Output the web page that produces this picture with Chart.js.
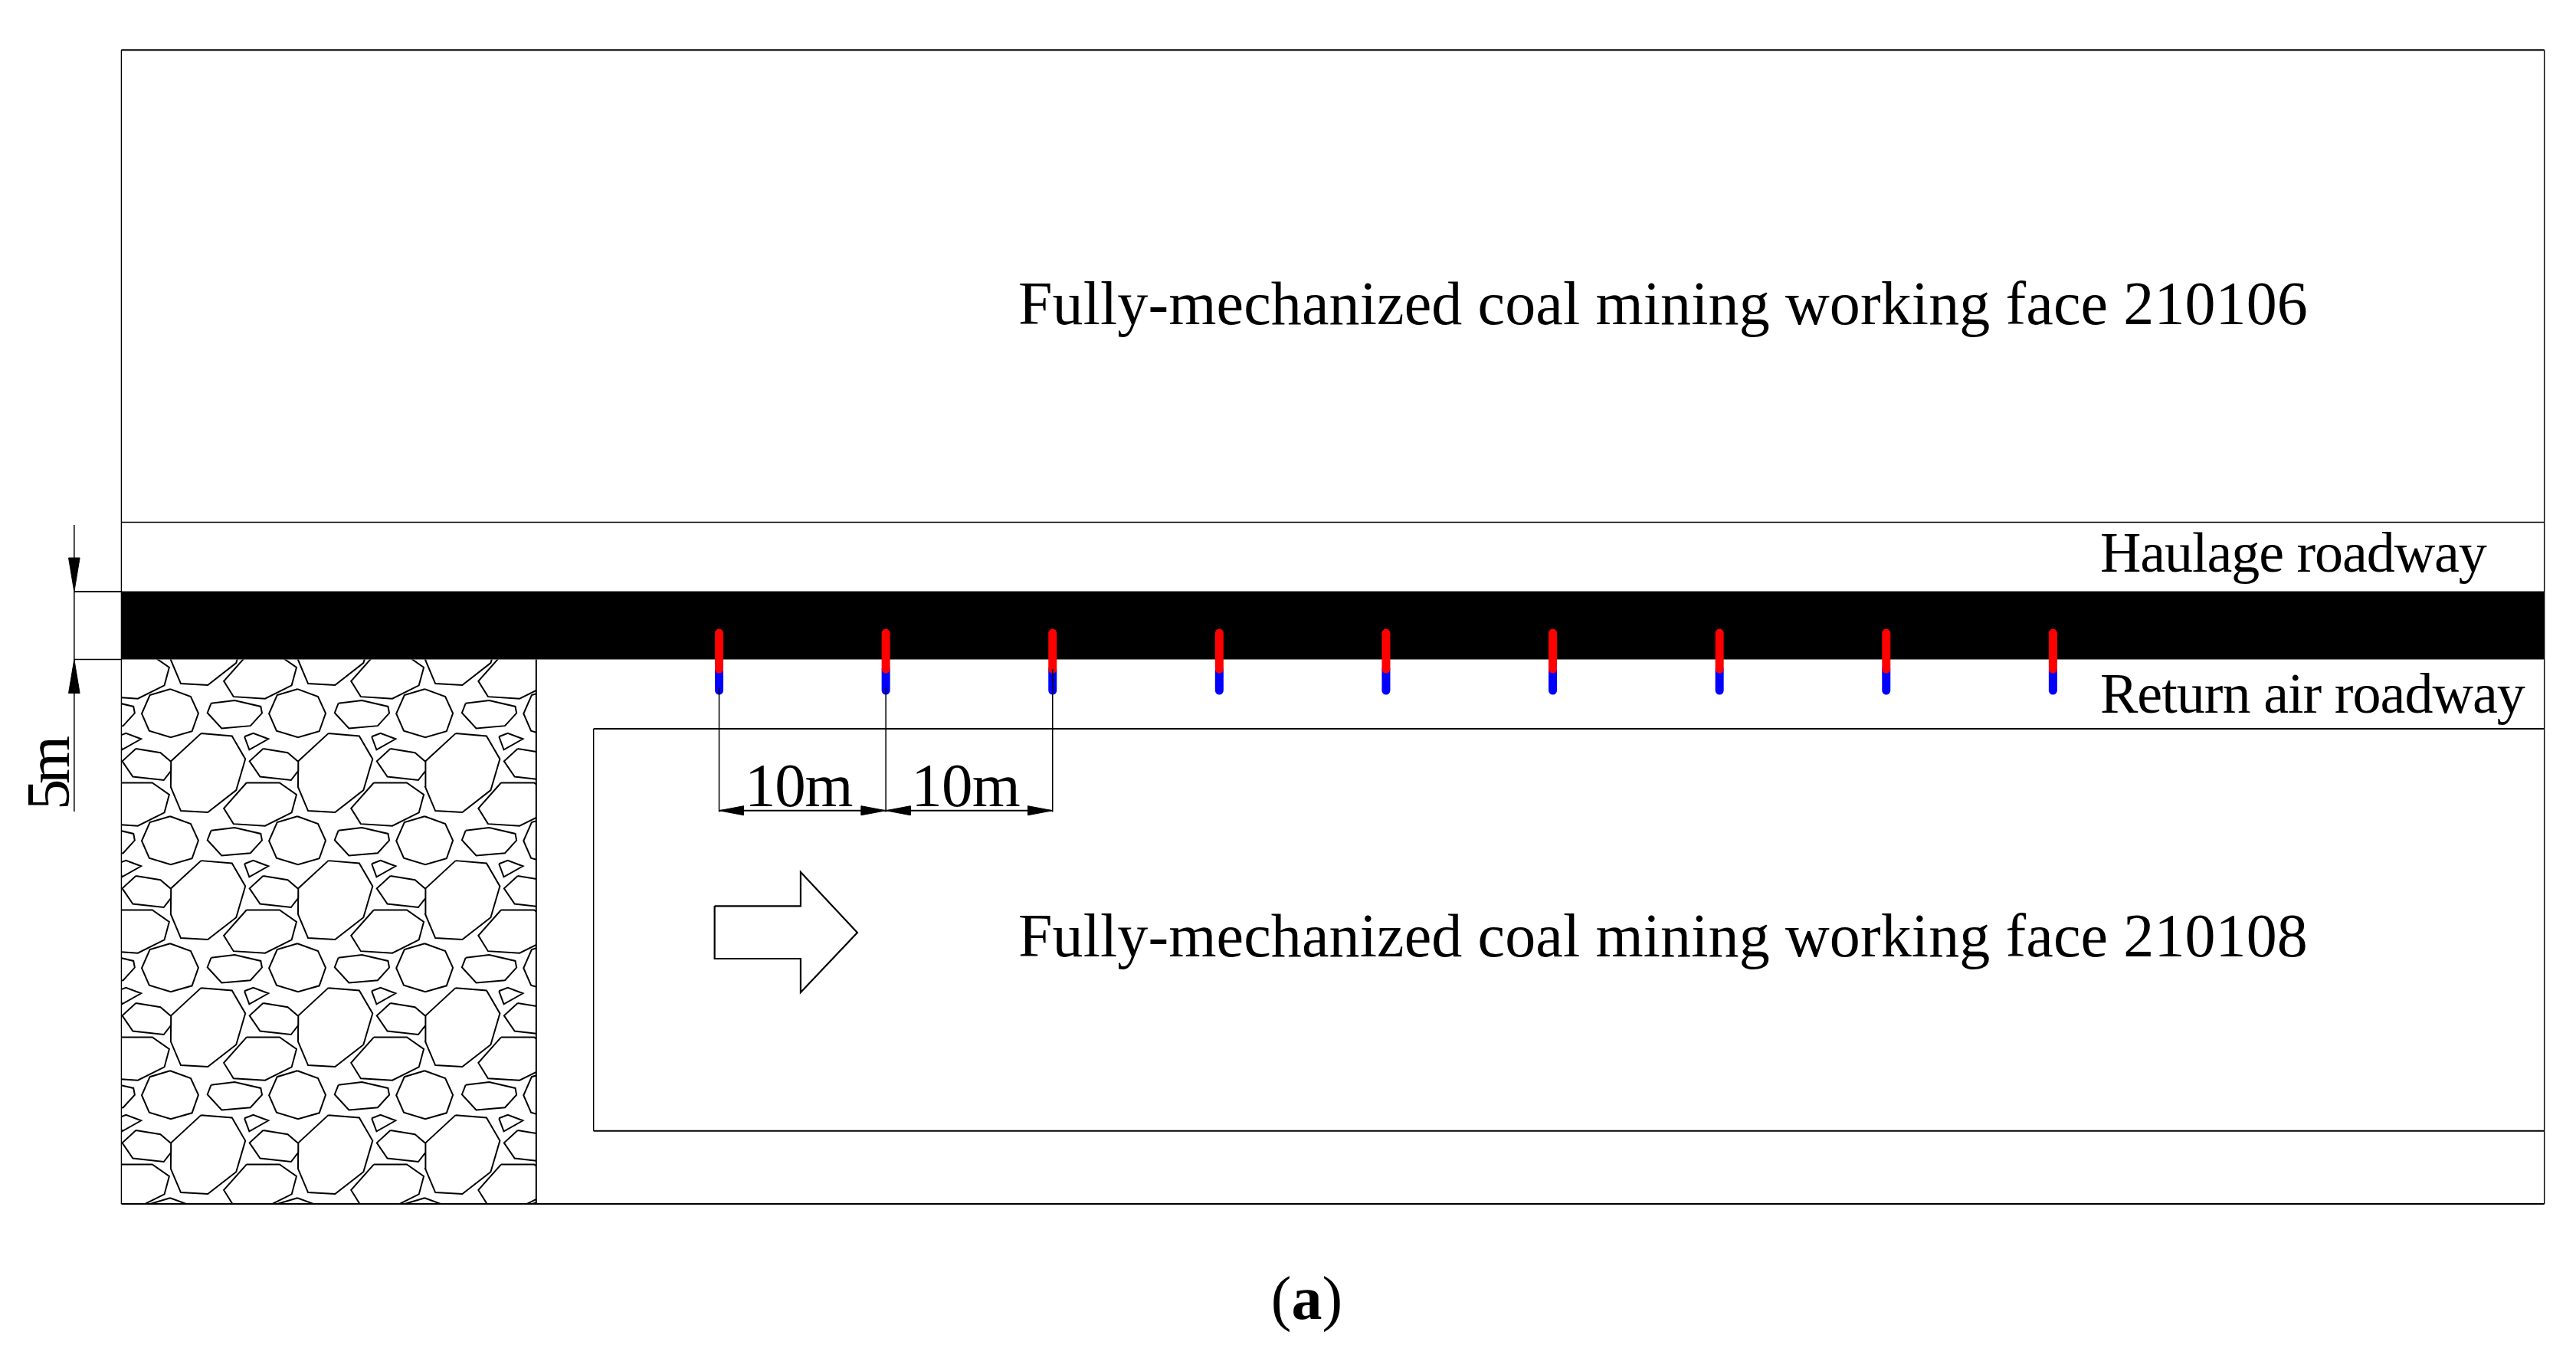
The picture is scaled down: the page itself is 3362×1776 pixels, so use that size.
<!DOCTYPE html>
<html>
<head>
<meta charset="utf-8">
<title>Borehole layout</title>
<script src="https://cdn.jsdelivr.net/npm/chart.js@4/dist/chart.umd.min.js"></script>
<style>
  html, body { margin: 0; padding: 0; background: #fff; }
  #wrap { width: 3362px; height: 1776px; }
</style>
</head>
<body>
<div id="wrap"><canvas id="layout"></canvas></div>
<script>
// everything is in metres along the drawing: x from the first borehole, y up from the coal pillar's lower edge
const xRange = [-43.13, 111.37];
const yRange = [-51.72, 48.62];

const holeStations = [0, 10, 20, 30, 40, 50, 60, 70, 80];
const holeTop = 1.95;
const holeJoin = -0.71;
const holeBottom = -2.29;

const leftEdge = -35.85;
const rightEdge = 109.47;
const topEdge = 44.94;
const bottomEdge = -40.14;
const haulageTop = 10.12;
const pillarTop = 5;
const pillarBottom = 0;
const returnBottom = -5.11;
const goafRight = -10.97;
const faceLeft = -7.53;
const faceBottom = -34.75;

const dimY = -11.14;
const dimStations = [0, 10, 20];
const dimLineX = -38.68;

// advance arrow outline
const advanceX = [-0.27, 4.89, 4.89, 8.29, 4.89, 4.89, -0.27, -0.27];
const advanceY = [-18.18, -18.18, -15.68, -20.14, -24.55, -22.06, -22.06, -18.18];

// one tile of the caving hatch, in percent of a tile
const rockTileX = [
  [62.6, 86.9, 97.4, 90.2, 67.9, 46.7, 38.8, 39.0],
  [38.3, 54.5, 60.5, 55.5, 38.8, 21.9, 16.0, 22.4],
  [70.5, 89.0, 109.5, 110.5, 101.4, 78.8, 67.6],
  [96.7, 103.6, 115.5, 100.5],
  [11.4, 30.7, 39.0, 39.0, 33.3, 9.0, 0.7],
  [-1.7, 24.3, 37.6, 33.8, 12.9, -11.9, -19.5]
];
const rockTileY = [
  [38.0, 40.0, 58.1, 82.6, 100, 98.8, 80.1, 59.8],
  [3.1, 9.1, 22.2, 36.3, 41.1, 35.9, 22.4, 7.9],
  [14.3, 12.0, 16.8, 22.0, 32.0, 34.0, 21.8],
  [40.5, 37.8, 42.3, 50.8],
  [50.0, 53.1, 60.2, 67.4, 74.7, 72.0, 59.8],
  [76.8, 76.8, 86.1, 100.2, 110.6, 109.1, 96.9]
];
const rockTileW = 7.633;
const rockTileH = 9.379;
const rockAnchorY = -11.27;

const labelTexts = ['Fully-mechanized coal mining working face 210106', 'Fully-mechanized coal mining working face 210108', 'Haulage roadway', 'Return air roadway', '10m', '10m'];
const labelX = [17.94, 17.94, 82.83, 82.83, 1.54, 11.52];
const labelY = [24.73, -21.9, 6.5, -3.93, -10.8, -10.8];
const labelW = [77.34, 77.34, 23.2, 25.5, 6.5, 6.55];
const labelFont = [80, 80, 74, 74, 81, 81];

function pts(xs, ys) {
  return xs.map((x, i) => ({ x, y: ys[i] }));
}

function segments(list) {
  const out = [];
  list.forEach(s => { out.push(...s); out.push({ x: NaN, y: NaN }); });
  return out;
}

function lineSet(data, width, color) {
  return { type: 'scatter', showLine: true, data, borderColor: color || '#000', backgroundColor: color || '#000', borderWidth: width, pointRadius: 0, tension: 0, spanGaps: false };
}

function head(x, y, dx, dy) {
  // arrowhead, tip at x,y; goes back along dx,dy
  if (dx !== 0) return pts([x, x + dx, x + dx, x], [y, y + 0.34, y - 0.34, y]);
  return pts([x, x + 0.335, x - 0.335, x], [y, y + dy, y + dy, y]);
}

function solid(data) {
  return Object.assign(lineSet(data, 1), { fill: 'shape' });
}

const rockSegs = [];
for (let row = -2; row <= 3; row++) {
  for (let col = -1; col <= 3; col++) {
    rockTileX.forEach((xs, i) => {
      const ring = xs.map((u, j) => ({
        x: leftEdge + (col + u / 100) * rockTileW,
        y: rockAnchorY - (row + rockTileY[i][j] / 100) * rockTileH
      }));
      ring.push(ring[0]);
      rockSegs.push(ring);
    });
  }
}
const rocks = Object.assign(lineSet(segments(rockSegs), 2), { rockClip: true });

const blue = Object.assign(lineSet(segments(holeStations.map(x => [{ x, y: holeJoin }, { x, y: holeBottom }])), 11, '#0000ff'), { borderCapStyle: 'round' });
const red = Object.assign(lineSet(segments(holeStations.map(x => [{ x, y: holeTop }, { x, y: holeJoin }])), 11, '#ff0000'), { borderCapStyle: 'round' });

const band = Object.assign(lineSet(pts([leftEdge, rightEdge], [pillarTop, pillarTop]), 1), { fill: { value: pillarBottom } });

const dims = [];
dimStations.forEach((x, i) => {
  const from = i === 2 ? holeJoin : holeBottom + 0.2;
  dims.push([{ x, y: from }, { x, y: dimY - 0.1 }]);
});
dims.push(pts([dimLineX, dimLineX], [9.92, -11.21]));
dims.push(pts([dimLineX, leftEdge], [pillarBottom, pillarBottom]));

const heads = [
  head(0, dimY, 1.47, 0), head(10, dimY, -1.47, 0), head(10, dimY, 1.47, 0), head(20, dimY, -1.47, 0),
  head(dimLineX, pillarTop, 0, 2.49), head(dimLineX, pillarBottom, 0, -2.49)
];

const planH = segments([
  pts([leftEdge, rightEdge], [topEdge, topEdge]),
  pts([leftEdge, rightEdge], [bottomEdge, bottomEdge]),
  pts([faceLeft, rightEdge], [returnBottom, returnBottom]),
  pts([faceLeft, rightEdge], [faceBottom, faceBottom]),
  pts([0, 20], [dimY, dimY]),
  pts([dimLineX, leftEdge], [pillarTop, pillarTop]),
  pts([goafRight, goafRight], [pillarBottom, bottomEdge])
]);
const planV = segments([
  pts([leftEdge, leftEdge], [topEdge, bottomEdge]),
  pts([rightEdge, rightEdge], [topEdge, bottomEdge]),
  pts([faceLeft, faceLeft], [returnBottom, faceBottom])
]);

function fitText(ctx, text, px, py, target) {
  ctx.letterSpacing = '0px';
  const natural = ctx.measureText(text).width;
  ctx.letterSpacing = ((target - natural) / (text.length - 1)).toFixed(3) + 'px';
  ctx.fillText(text, px, py);
  ctx.letterSpacing = '0px';
}

const textPlugin = {
  id: 'drawingText',
  beforeDatasetDraw(chart, args) {
    if (!chart.data.datasets[args.index].rockClip) return;
    const { x, y } = chart.scales;
    const ctx = chart.ctx;
    ctx.save();
    ctx.beginPath();
    ctx.rect(x.getPixelForValue(leftEdge), y.getPixelForValue(pillarBottom), x.getPixelForValue(goafRight) - x.getPixelForValue(leftEdge), y.getPixelForValue(bottomEdge) - y.getPixelForValue(pillarBottom));
    ctx.clip();
  },
  afterDatasetDraw(chart, args) {
    if (chart.data.datasets[args.index].rockClip) chart.ctx.restore();
  },
  afterDatasetsDraw(chart) {
    const { x, y } = chart.scales;
    const ctx = chart.ctx;
    ctx.save();
    ctx.fillStyle = '#000';
    ctx.textBaseline = 'alphabetic';
    labelTexts.forEach((t, i) => {
      ctx.font = labelFont[i] + 'px "Liberation Serif"';
      const w = x.getPixelForValue(labelW[i]) - x.getPixelForValue(0);
      fitText(ctx, t, x.getPixelForValue(labelX[i]), y.getPixelForValue(labelY[i]), w);
    });
    // vertical dimension text
    ctx.save();
    ctx.translate(x.getPixelForValue(dimLineX - 0.32), y.getPixelForValue(-11.1));
    ctx.rotate(-Math.PI / 2);
    ctx.font = '81px "Liberation Serif"';
    fitText(ctx, '5m', 0, 0, 97);
    ctx.restore();
    // panel letter
    const cx = x.getPixelForValue(33.1), cy = y.getPixelForValue(-48.6);
    ctx.font = '80px "Liberation Serif"';
    ctx.fillText('(', cx, cy);
    let w = ctx.measureText('(').width;
    ctx.font = 'bold 80px "Liberation Serif"';
    ctx.fillText('a', cx + w, cy);
    w += ctx.measureText('a').width;
    ctx.font = '80px "Liberation Serif"';
    ctx.fillText(')', cx + w, cy);
    ctx.restore();
  }
};

// chart.js paints the first dataset last, so the top layers come first here
new Chart(document.getElementById('layout'), {
  type: 'scatter',
  data: {
    datasets: [
      ...heads.map(solid),
      lineSet(segments(dims), 1.5),
      red,
      blue,
      band,
      rocks,
      lineSet(planH, 2),
      lineSet(planV, 1.4),
      lineSet(pts([leftEdge, rightEdge], [haulageTop, haulageTop]), 1.5),
      lineSet(pts(advanceX, advanceY), 2.2)
    ]
  },
  options: {
    responsive: true,
    maintainAspectRatio: false,
    animation: false,
    layout: { padding: 0 },
    plugins: { legend: { display: false }, tooltip: { enabled: false } },
    scales: {
      x: { type: 'linear', min: xRange[0], max: xRange[1], display: false },
      y: { type: 'linear', min: yRange[0], max: yRange[1], display: false }
    }
  },
  plugins: [textPlugin]
});
</script>
</body>
</html>
